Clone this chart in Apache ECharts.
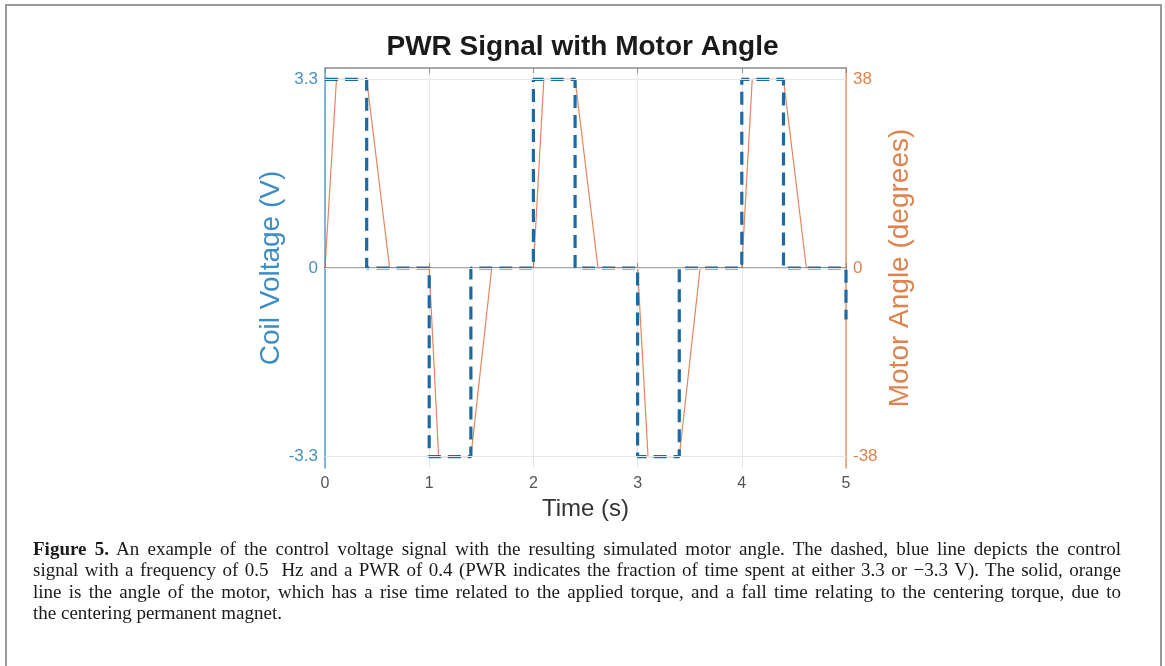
<!DOCTYPE html>
<html>
<head>
<meta charset="utf-8">
<script src="https://cdn.jsdelivr.net/npm/echarts@6/dist/echarts.min.js"></script>
<style>
  html, body { margin: 0; padding: 0; background: #fff; }
  #wrap { position: relative; width: 1165px; height: 666px; overflow: hidden; }
  #chart { position: absolute; left: 0; top: 0; width: 1165px; height: 666px; }
  #frame { position: absolute; left: 5px; top: 4px; width: 1153px; height: 700px;
           border: 2px solid #9a9a9a; border-bottom: none; pointer-events: none; }
  #caption { position: absolute; left: 33px; top: 538px; width: 1088px;
             font-family: "Liberation Serif", "DejaVu Serif", serif; font-size: 19px;
             line-height: 21.3px; color: #1a1a1a; }
  #caption .j { text-align: justify; text-align-last: justify; white-space: nowrap; }
</style>
</head>
<body>
<div id="wrap">
  <div id="chart"></div>
  <div id="frame"></div>
  <div id="caption">
    <div class="j"><b>Figure 5.</b> An example of the control voltage signal with the resulting simulated motor angle. The dashed, blue line depicts the control</div>
    <div class="j">signal with a frequency of 0.5&nbsp; Hz and a PWR of 0.4 (PWR indicates the fraction of time spent at either 3.3 or &minus;3.3 V). The solid, orange</div>
    <div class="j">line is the angle of the motor, which has a rise time related to the applied torque, and a fall time relating to the centering torque, due to</div>
    <div>the centering permanent magnet.</div>
  </div>
</div>
<script>
// control voltage (blue, dashed)
const timeV = [0, 0.4, 0.4, 1, 1, 1.4, 1.4, 2, 2, 2.4, 2.4, 3, 3, 3.4, 3.4, 4, 4, 4.4, 4.4, 5, 5];
const voltage = [3.3, 3.3, 0, 0, -3.3, -3.3, 0, 0, 3.3, 3.3, 0, 0, -3.3, -3.3, 0, 0, 3.3, 3.3, 0, 0, -0.9];

// motor angle (orange, solid)
const timeA = [0, 0.11, 0.4, 0.62, 1, 1.09, 1.4, 1.6, 2, 2.1, 2.4, 2.62, 3, 3.1, 3.4, 3.6, 4, 4.1, 4.4, 4.62, 5];
const angle = [0, 38, 38, 0, 0, -38, -38, 0, 0, 38, 38, 0, 0, -38, -38, 0, 0, 38, 38, 0, 0];

const xTicks = [0, 1, 2, 3, 4, 5];
const voltTicks = [-3.3, 0, 3.3];
const angleTicks = [-38, 0, 38];

const blue = '#1b6aa5';
const orange = '#D95319';
const font = 'Liberation Sans, Arial, sans-serif';

const chart = echarts.init(document.getElementById('chart'));

const option = {
  animation: false,
  title: {
    text: 'PWR Signal with Motor Angle',
    left: 'center',
    top: 28,
    textStyle: { fontFamily: font, fontWeight: 'bold', fontSize: 28, color: '#1a1a1a' }
  },
  grid: { left: 325, right: 319, top: 68, bottom: 198 },
  xAxis: [{
    type: 'value', min: 0, max: 5, interval: 1,
    name: 'Time (s)', nameLocation: 'middle', nameGap: 27,
    nameTextStyle: { fontFamily: font, fontSize: 24, color: '#333' },
    axisLine: { lineStyle: { color: '#8a8a8a', width: 1.5 } },
    axisTick: { inside: true, length: 5, lineStyle: { color: '#8a8a8a' } },
    axisLabel: { margin: 8, fontFamily: font, fontSize: 16, color: '#555' },
    splitLine: { show: true, lineStyle: { color: '#e6e6e6', width: 1 } }
  }, {
    type: 'value', min: 0, max: 5, interval: 1, position: 'top',
    axisLine: { show: true, onZero: false, lineStyle: { color: '#8a8a8a', width: 1.5 } },
    axisTick: { show: true, inside: true, length: 5, lineStyle: { color: '#8a8a8a' } },
    axisLabel: { show: false },
    splitLine: { show: false }
  }],
  yAxis: [{
    type: 'value', min: -3.5, max: 3.5, position: 'left',
    name: 'Coil Voltage (V)', nameLocation: 'middle', nameGap: 37,
    nameTextStyle: { fontFamily: font, fontSize: 28, color: '#3d8cc4' },
    axisLine: { show: true, onZero: false, lineStyle: { color: '#5a9fd0', width: 1.5 } },
    axisTick: { show: true, inside: true, length: 5, customValues: voltTicks, lineStyle: { color: '#5a9fd0' } },
    axisLabel: { margin: 7, customValues: voltTicks, fontFamily: font, fontSize: 17, color: '#4a8fc4' },
    splitLine: { show: false }
  }, {
    type: 'value', min: -38 * 3.5 / 3.3, max: 38 * 3.5 / 3.3, position: 'right',
    name: 'Motor Angle (degrees)', nameLocation: 'middle', nameGap: 40,
    nameTextStyle: { fontFamily: font, fontSize: 28, color: '#e0824e' },
    axisLine: { show: true, onZero: false, lineStyle: { color: '#e6956a', width: 1.5 } },
    axisTick: { show: true, inside: true, length: 5, customValues: angleTicks, lineStyle: { color: '#e6956a' } },
    axisLabel: { margin: 7, customValues: angleTicks, fontFamily: font, fontSize: 17, color: '#e0824e' },
    splitLine: { show: false }
  }],
  series: [{
    // horizontal grid lines at the voltage ticks
    type: 'line', xAxisIndex: 0, yAxisIndex: 0, data: [], silent: true,
    markLine: {
      symbol: 'none', silent: true, label: { show: false },
      lineStyle: { color: '#e6e6e6', width: 1, type: 'solid' },
      data: voltTicks.map(v => ({ yAxis: v }))
    }
  }, {
    name: 'Motor Angle', type: 'line', xAxisIndex: 0, yAxisIndex: 1,
    data: timeA.map((t, i) => [t, angle[i]]),
    showSymbol: false, z: 3,
    lineStyle: { color: orange, width: 1.2, opacity: 0.7 }
  }, {
    name: 'Coil Voltage', type: 'line', xAxisIndex: 0, yAxisIndex: 0,
    data: timeV.map((t, i) => [t, voltage[i]]),
    showSymbol: false, z: 4,
    lineStyle: { color: blue, width: 3.2, type: [13, 7] }
  }]
};

chart.setOption(option);
</script>
</body>
</html>
